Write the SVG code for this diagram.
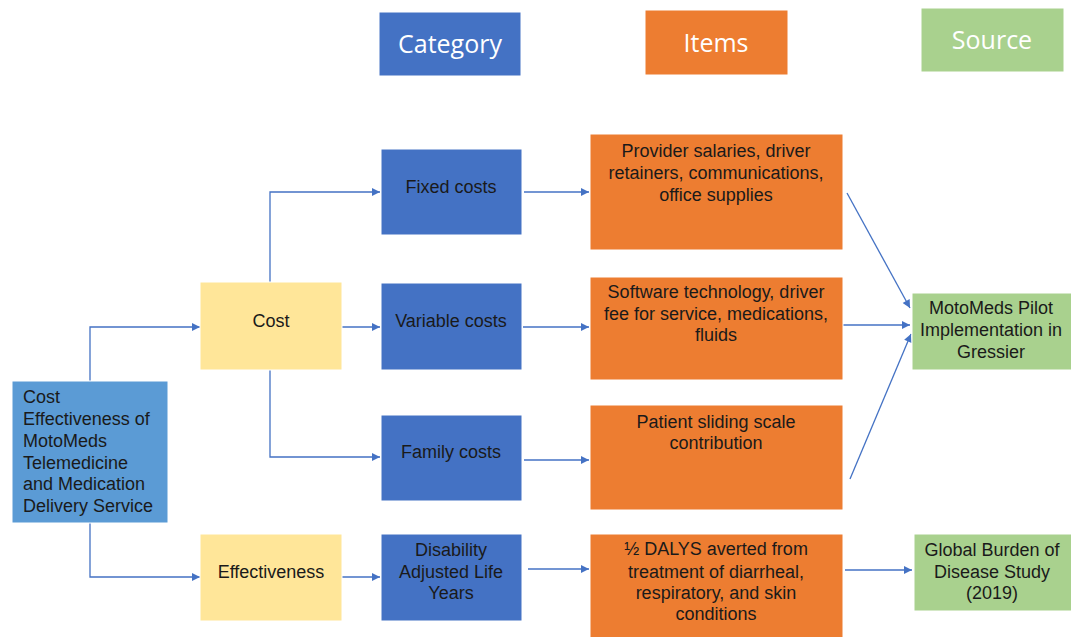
<svg xmlns="http://www.w3.org/2000/svg" width="1071" height="637" viewBox="0 0 1071 637">
<style>
.hdr{font-family:"Open Sans","Liberation Sans",sans-serif;font-size:25px;fill:#ffffff;text-anchor:middle}
.t{font-family:"Liberation Sans",Arial,sans-serif;font-size:18px;fill:#1a1a1a}
.c{text-anchor:middle}
.box{stroke:#ffffff;stroke-width:1}
.blue{fill:#4472C4}.orange{fill:#ED7D31}.green{fill:#A9D18E}.yellow{fill:#FFE699}.main{fill:#5B9BD5}
.conn{fill:none;stroke:#4472C4;stroke-width:1.3;marker-end:url(#ah)}
</style>
<defs>
<marker id="ah" viewBox="0 0 10 10" refX="10" refY="5" markerWidth="10" markerHeight="8" markerUnits="userSpaceOnUse" orient="auto">
<path d="M0,0 L10,5 L0,10 z" fill="#4472C4"/>
</marker>
</defs>
<rect width="1071" height="637" fill="#ffffff"/>
<g id="hdr-category"><rect class="box blue" x="379" y="12" width="142" height="64"/><text class="hdr" x="450" y="53">Category</text></g>
<g id="hdr-items"><rect class="box orange" x="645" y="10" width="143" height="65"/><text class="hdr" x="716" y="52">Items</text></g>
<g id="hdr-source"><rect class="box green" x="921" y="8" width="143" height="64"/><text class="hdr" x="992" y="49">Source</text></g>

<g id="connectors">
<path class="conn" d="M90,381 V327 H200"/>
<path class="conn" d="M90,523 V577 H200"/>
<path class="conn" d="M270,282 V192 H380"/>
<path class="conn" d="M342,327 H380"/>
<path class="conn" d="M270,370 V457 H380"/>
<path class="conn" d="M342,577 H380"/>
<path class="conn" d="M524,192 H589"/>
<path class="conn" d="M523,327 H589"/>
<path class="conn" d="M524,460 H589"/>
<path class="conn" d="M528,569 H589"/>
<path class="conn" d="M845,570 H912"/>
<path class="conn" d="M847,193 L910,308"/>
<path class="conn" d="M843,325 L910,325"/>
<path class="conn" d="M850,479 L911,334"/>
</g>

<g id="main"><rect class="box main" x="12" y="381" width="156" height="142"/>
<text class="t" x="23"><tspan x="23" y="403">Cost</tspan><tspan x="23" y="425">Effectiveness of</tspan><tspan x="23" y="447">MotoMeds</tspan><tspan x="23" y="469">Telemedicine</tspan><tspan x="23" y="490">and Medication</tspan><tspan x="23" y="512">Delivery Service</tspan></text></g>
<g id="cost"><rect class="box yellow" x="200" y="282" width="142" height="88"/><text class="t c" x="271" y="327">Cost</text></g>
<g id="effectiveness"><rect class="box yellow" x="200" y="534" width="142" height="87"/><text class="t c" x="271" y="578">Effectiveness</text></g>
<g id="fixed"><rect class="box blue" x="381" y="149" width="141" height="86"/><text class="t c" x="451" y="193">Fixed costs</text></g>
<g id="variable"><rect class="box blue" x="381" y="283" width="141" height="87"/><text class="t c" x="451" y="327">Variable costs</text></g>
<g id="family"><rect class="box blue" x="381" y="415" width="141" height="86"/><text class="t c" x="451" y="458">Family costs</text></g>
<g id="daly"><rect class="box blue" x="381" y="534" width="141" height="87"/><text class="t c"><tspan x="451" y="556">Disability</tspan><tspan x="451" y="578">Adjusted Life</tspan><tspan x="451" y="599">Years</tspan></text></g>
<g id="items-fixed"><rect class="box orange" x="590" y="134" width="253" height="116"/><text class="t c"><tspan x="716" y="157">Provider salaries, driver</tspan><tspan x="716" y="179">retainers, communications,</tspan><tspan x="716" y="201">office supplies</tspan></text></g>
<g id="items-variable"><rect class="box orange" x="590" y="277" width="253" height="103"/><text class="t c"><tspan x="716" y="298">Software technology, driver</tspan><tspan x="716" y="320">fee for service, medications,</tspan><tspan x="716" y="341">fluids</tspan></text></g>
<g id="items-family"><rect class="box orange" x="590" y="405" width="253" height="105"/><text class="t c"><tspan x="716" y="428">Patient sliding scale</tspan><tspan x="716" y="449">contribution</tspan></text></g>
<g id="items-daly"><rect class="box orange" x="590" y="534" width="253" height="104"/><text class="t c"><tspan x="716" y="555">½ DALYS averted from</tspan><tspan x="716" y="578">treatment of diarrheal,</tspan><tspan x="716" y="599">respiratory, and skin</tspan><tspan x="716" y="620">conditions</tspan></text></g>
<g id="source-pilot"><rect class="box green" x="912" y="293" width="160" height="77"/><text class="t c"><tspan x="991" y="314">MotoMeds Pilot</tspan><tspan x="991" y="336">Implementation in</tspan><tspan x="991" y="358">Gressier</tspan></text></g>
<g id="source-gbd"><rect class="box green" x="914" y="534" width="158" height="77"/><text class="t c"><tspan x="992" y="556">Global Burden of</tspan><tspan x="992" y="578">Disease Study</tspan><tspan x="992" y="599">(2019)</tspan></text></g>
</svg>
